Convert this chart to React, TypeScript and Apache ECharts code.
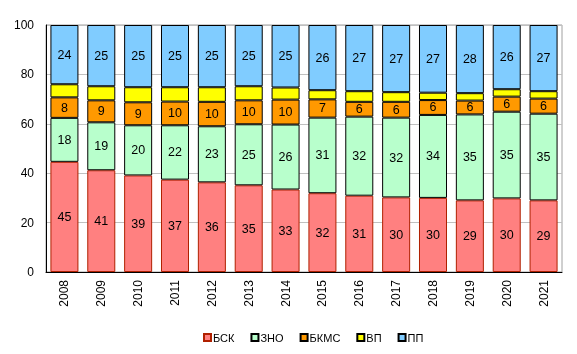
import React, { useEffect, useRef } from "react";
import * as echarts from "echarts";

const years = ["2008","2009","2010","2011","2012","2013","2014","2015","2016","2017","2018","2019","2020","2021"];
const bsk = [44.6, 41.2, 39.1, 37.4, 36.3, 35.1, 33.4, 31.9, 30.9, 30.2, 30.0, 29.0, 29.8, 29.0];
const zno = [17.8, 19.4, 20.3, 22.0, 22.7, 24.7, 26.3, 30.6, 32.0, 32.3, 33.6, 34.8, 35.1, 35.1];
const bkms = [8.3, 8.9, 9.3, 9.6, 9.9, 9.7, 10.1, 7.4, 6.0, 6.4, 6.0, 5.6, 6.1, 6.1];
const vp = [5.3, 5.7, 6.1, 5.8, 5.9, 5.7, 4.9, 3.7, 4.3, 3.9, 3.0, 3.0, 3.0, 3.0];
const pp = [24.0, 24.8, 25.2, 25.2, 25.2, 24.8, 25.3, 26.4, 26.8, 27.2, 27.4, 27.6, 26.0, 26.8];
const yTicks = [0, 20, 40, 60, 80, 100];

export default function App() {
  const ref = useRef<HTMLDivElement>(null);
  useEffect(() => {
    if (!ref.current) return;
    const chart = echarts.init(ref.current, null, { renderer: "svg" });
    const font = "Arial, 'Liberation Sans', sans-serif";
    const mk = (name: string, data: number[], color: string, border: string, showLabel: boolean) => ({
      name,
      type: "bar",
      stack: "total",
      data,
      barCategoryGap: "24%",
      itemStyle: { color, borderColor: border, borderWidth: 1 },
      label: {
        show: showLabel,
        position: "inside",
        color: "#000",
        fontSize: 12.5,
        fontFamily: font,
        formatter: (p: any) => String(Math.round(p.value)),
      },
      emphasis: { disabled: true },
    });
    chart.setOption({
      animation: false,
      grid: { left: 46, right: 15, top: 25, bottom: 82, show: true, borderColor: "#a0a0a0", borderWidth: 1 },
      xAxis: {
        type: "category",
        data: years,
        axisLine: { lineStyle: { color: "#000", width: 1 } },
        axisTick: { show: false },
        axisLabel: { rotate: 90, color: "#000", fontSize: 12, fontFamily: font, margin: 8 },
      },
      yAxis: {
        type: "value",
        min: 0,
        max: 100,
        interval: 20,
        axisLine: { show: true, lineStyle: { color: "#000", width: 1 } },
        axisTick: { show: false },
        splitLine: { lineStyle: { color: "#c0c0c0", width: 1 } },
        axisLabel: { color: "#000", fontSize: 12, fontFamily: font, margin: 12,
          formatter: (v: number) => (yTicks.includes(v) ? String(v) : "") },
      },
      legend: {
        bottom: 6,
        left: 198,
        itemWidth: 7,
        itemHeight: 7,
        itemGap: 16,
        icon: "rect",
        textStyle: { color: "#000", fontSize: 11, fontFamily: font, padding: [0, 0, 0, -3] },
        data: ["БСК", "ЗНО", "БКМС", "ВП", "ПП"],
      },
      series: [
        mk("БСК", bsk, "#FF8080", "#B02000", true),
        mk("ЗНО", zno, "#B8FFCC", "#000", true),
        mk("БКМС", bkms, "#FF9900", "#000", true),
        mk("ВП", vp, "#FFFF00", "#000", false),
        mk("ПП", pp, "#80CCFF", "#000", true),
      ],
    });
    return () => chart.dispose();
  }, []);
  return <div ref={ref} style={{ position: "fixed", left: 0, top: 0, width: 577, height: 354 }} />;
}
